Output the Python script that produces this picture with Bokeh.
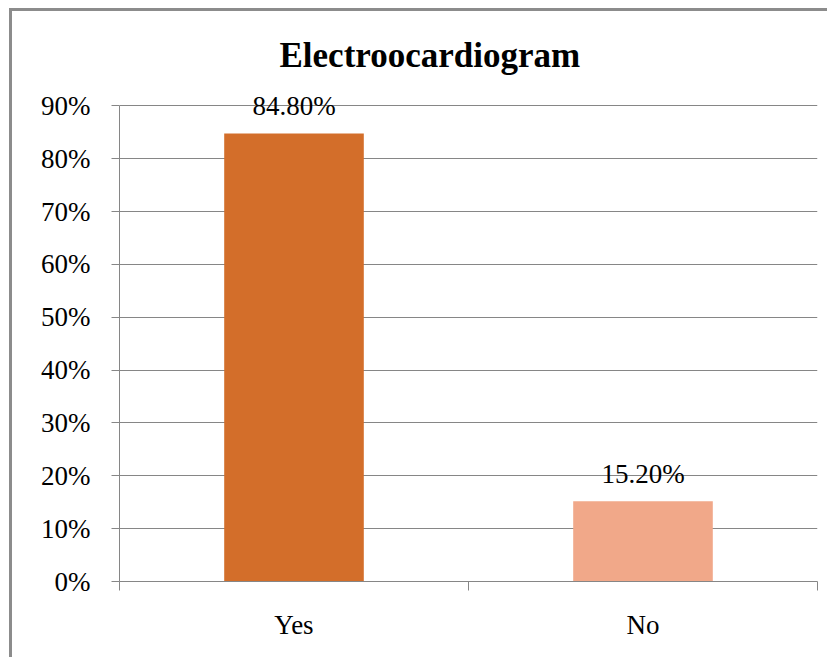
from bokeh.plotting import figure
from bokeh.models import (Range1d, FixedTicker, NumeralTickFormatter, ColumnDataSource,
                          LabelSet, Title)
from bokeh.embed import file_html
from bokeh.resources import INLINE

categories = ["Yes", "No"]
values = [0.848, 0.152]
value_labels = ["84.80%", "15.20%"]
colors = ["#D36E2A", "#F1A889"]
y_ticks = [0.0, 0.1, 0.2, 0.3, 0.4, 0.5, 0.6, 0.7, 0.8, 0.9]

FONT = "Liberation Serif"
GRAY = "#868686"

x_pos = [i + 0.5 for i in range(len(categories))]
src = ColumnDataSource(dict(x=x_pos, top=values, label=value_labels, color=colors))

p = figure(width=818, height=649, output_backend="svg", toolbar_location=None,
           x_range=Range1d(0, len(categories)), y_range=Range1d(0, 0.95),
           min_border_left=107, min_border_right=13, min_border_top=68, min_border_bottom=79,
           styles={"border-left": "3px solid #8c8c8c", "border-top": "3px solid #8c8c8c",
                   "margin-left": "9px", "margin-top": "8px"})
p.outline_line_color = None
p.background_fill_color = "white"
p.border_fill_color = "white"

t = Title(text="Electroocardiogram", text_font=FONT, text_font_size="35px",
          text_font_style="bold", text_color="black", align="left", offset=160,
          standoff=10)
p.add_layout(t, "above")

p.vbar(x="x", top="top", width=0.4, fill_color="color", line_color=None, source=src)

labels = LabelSet(x="x", y="top", text="label", source=src, text_align="center",
                  text_baseline="middle", y_offset=27, text_font=FONT,
                  text_font_size="27px", text_color="black")
p.add_layout(labels)

# y axis
ya = p.yaxis[0]
ya.bounds = (0, 0.9)
ya.ticker = FixedTicker(ticks=y_ticks)
ya.formatter = NumeralTickFormatter(format="0%")
ya.axis_line_color = GRAY
ya.major_tick_line_color = GRAY
ya.major_tick_out = 8
ya.major_tick_in = 0
ya.minor_tick_line_color = None
ya.major_label_text_font = FONT
ya.major_label_text_font_size = "27px"
ya.major_label_text_color = "black"
ya.major_label_standoff = 21

# x axis
xa = p.xaxis[0]
xa.ticker = FixedTicker(ticks=x_pos, minor_ticks=list(range(len(categories) + 1)))
xa.major_label_overrides = {x: c for x, c in zip(x_pos, categories)}
xa.axis_line_color = GRAY
xa.major_tick_line_color = None
xa.major_tick_out = 9
xa.major_tick_in = 0
xa.minor_tick_line_color = GRAY
xa.minor_tick_out = 9
xa.minor_tick_in = 0
xa.major_label_text_font = FONT
xa.major_label_text_font_size = "27px"
xa.major_label_text_color = "black"
xa.major_label_standoff = 19

p.xgrid.grid_line_color = None
p.ygrid.grid_line_color = GRAY
p.ygrid.ticker = FixedTicker(ticks=y_ticks)

open("out.html", "w").write(file_html(p, INLINE))
